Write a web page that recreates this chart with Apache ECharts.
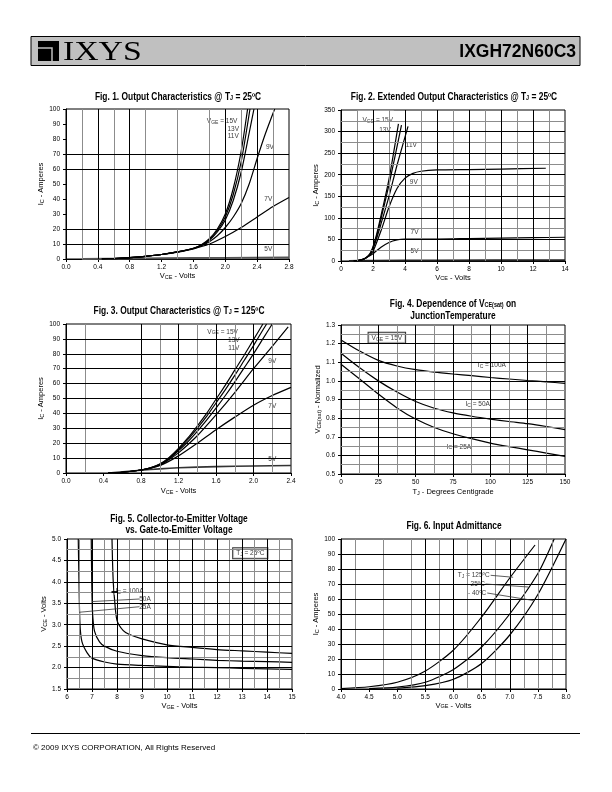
<!DOCTYPE html>
<html><head><meta charset="utf-8">
<script src="https://cdn.jsdelivr.net/npm/echarts/dist/echarts.min.js"></script>
<style>html,body{margin:0;padding:0;background:#fff}#c{width:612px;height:792px}</style>
</head><body><div id="c"></div>
<script>
// ---------------- DATA ----------------
// Fig 1  Output characteristics @25C  [VCE, IC]
const f1_15V = [[0.45,0],[0.6,0.3],[0.8,0.9],[1.0,1.8],[1.2,3.0],[1.4,4.7],[1.6,7.2],[1.7,9.5],[1.8,13.5],[1.9,20],[2.0,30],[2.1,47],[2.2,72],[2.28,100]];
const f1_13V = [[0.45,0],[0.6,0.3],[0.8,0.9],[1.0,1.8],[1.2,3.0],[1.4,4.7],[1.6,7.1],[1.7,9.3],[1.8,13],[1.9,19],[2.0,28],[2.1,43],[2.2,65],[2.31,100]];
const f1_11V = [[0.45,0],[0.6,0.3],[0.8,0.9],[1.0,1.8],[1.2,3.0],[1.4,4.7],[1.6,7.0],[1.7,9.0],[1.8,12.5],[1.9,18],[2.0,26],[2.1,39],[2.2,58],[2.3,84],[2.36,100]];
const f1_9V  = [[0.45,0],[0.6,0.3],[0.8,0.9],[1.0,1.8],[1.2,3.0],[1.4,4.7],[1.6,7.0],[1.7,8.8],[1.8,11.5],[1.9,15.5],[2.0,21],[2.1,28],[2.2,37],[2.3,50],[2.4,67],[2.5,83],[2.62,100]];
const f1_7V  = [[0.45,0],[0.6,0.3],[0.8,0.9],[1.0,1.8],[1.2,3.0],[1.4,4.6],[1.6,6.8],[1.8,10],[2.0,15],[2.2,21],[2.4,28],[2.6,35],[2.8,41]];
const f1_5V  = [[0.2,0],[0.8,0.3],[1.2,0.5],[2.0,0.8],[2.8,1.0]];
const f1Labels  = ['V{s|GE} = 15V','13V','11V','9V','7V','5V'];
const f1LabelAt = [[1.96,92],[2.1,87],[2.1,82],[2.56,75],[2.54,40.5],[2.54,7]];

// Fig 2  Extended output characteristics @25C
const f2_15V = [[0.8,0],[1.2,2],[1.5,6],[1.8,16],[2.0,33],[2.2,58],[2.5,105],[3.0,190],[3.59,318]];
const f2_13V = [[0.8,0],[1.2,2],[1.5,6],[1.8,16],[2.0,31],[2.2,54],[2.5,98],[3.0,177],[3.78,315]];
const f2_11V = [[0.8,0],[1.2,2],[1.5,6],[1.8,15],[2.0,29],[2.2,49],[2.5,86],[3.0,150],[3.5,222],[4.19,312]];
const f2_9V  = [[0.8,0],[1.2,2],[1.5,6],[1.8,14],[2.0,22],[2.5,70],[3.0,125],[3.5,168],[4.0,192],[4.5,203],[5.0,208],[6.0,211],[8.0,212],[10.0,213],[12.8,215]];
const f2_7V  = [[0.8,0],[1.2,2],[1.5,6],[1.8,12],[2.0,17],[2.5,32],[3.0,43],[3.5,49],[4.0,51],[6.0,51],[8.0,52],[10.0,53],[12.0,54],[14.0,55]];
const f2_5V  = [[0.5,0],[2,1],[6,1.5],[14,2]];
const f2Labels  = ['V{s|GE} = 15V','13V','11V','9V','7V','5V'];
const f2LabelAt = [[2.3,327],[2.75,304],[4.4,270],[4.55,184],[4.6,67],[4.6,25]];

// Fig 3  Output characteristics @125C
const f3_15V = [[0.45,0],[0.6,0.5],[0.8,2],[0.9,3.5],[1.0,6],[1.1,10.5],[1.2,16.5],[1.3,23.5],[1.4,31.5],[1.5,40],[1.6,49.5],[1.7,59],[1.8,69],[1.9,79],[2.0,89.5],[2.1,100]];
const f3_13V = [[0.45,0],[0.6,0.5],[0.8,2],[0.9,3.4],[1.0,5.8],[1.1,10],[1.2,15.8],[1.3,22.5],[1.4,30],[1.5,38],[1.6,47],[1.7,56],[1.8,65.5],[1.9,75.5],[2.0,85.5],[2.1,96],[2.14,100]];
const f3_11V = [[0.45,0],[0.6,0.5],[0.8,2],[0.9,3.3],[1.0,5.5],[1.1,9.5],[1.2,15],[1.3,21],[1.4,28],[1.5,35.5],[1.6,43.5],[1.7,52],[1.8,61],[1.9,70.5],[2.0,80],[2.1,90],[2.2,100]];
const f3_9V  = [[0.45,0],[0.6,0.5],[0.8,2],[0.9,3.2],[1.0,5],[1.1,9],[1.2,13.5],[1.4,25],[1.6,39],[1.8,54],[2.0,70],[2.2,85],[2.37,98]];
const f3_7V  = [[0.45,0],[0.6,0.5],[0.8,2],[1.0,5],[1.2,11.5],[1.4,20],[1.6,29],[1.8,37.5],[2.0,45.5],[2.2,52],[2.4,57.5]];
const f3_5V  = [[0.45,0],[0.8,1.8],[1.0,2.8],[1.2,3.5],[1.6,4.3],[2.0,4.7],[2.4,5.0]];
const f3Labels  = ['V{s|GE} = 15V','13V','11V','9V','7V','5V'];
const f3LabelAt = [[1.67,95],[1.79,89.4],[1.79,84],[2.2,75.5],[2.2,45],[2.2,9.5]];

// Fig 4  VCE(sat) normalized vs TJ
const f4_100A = [[0,1.22],[12.5,1.16],[25,1.11],[37.5,1.08],[50,1.06],[62.5,1.047],[75,1.037],[87.5,1.028],[100,1.018],[112.5,1.01],[125,1.002],[137.5,0.995],[150,0.987]];
const f4_50A  = [[0,1.148],[12.5,1.07],[25,1.0],[37.5,0.94],[50,0.889],[62.5,0.853],[75,0.828],[87.5,0.81],[100,0.795],[112.5,0.782],[125,0.77],[137.5,0.755],[150,0.738]];
const f4_25A  = [[0,1.089],[12.5,1.01],[25,0.929],[37.5,0.855],[50,0.795],[62.5,0.75],[75,0.716],[87.5,0.69],[100,0.666],[112.5,0.647],[125,0.63],[137.5,0.612],[150,0.595]];
const f4Labels  = ['V{s|GE} = 15V','I{s|C} = 100A','I{s|C} = 50A','I{s|C} = 25A'];
const f4LabelAt = [[30.7,1.232],[101,1.085],[91.5,0.877],[79,0.648]];

// Fig 5  VCE vs VGE
const f5_100A = [[7.8,5.0],[7.82,4.5],[7.85,4.0],[7.9,3.6],[8.0,3.1],[8.25,2.86],[8.5,2.77],[9,2.67],[10,2.53],[11,2.47],[12,2.42],[13,2.39],[14,2.36],[15,2.33]];
const f5_50A  = [[6.97,5.0],[6.99,4.0],[7.02,3.3],[7.1,2.85],[7.3,2.6],[7.5,2.5],[8,2.38],[9,2.28],[10,2.23],[11,2.2],[12,2.17],[13,2.15],[14,2.14],[15,2.12]];
const f5_25A  = [[6.45,5.0],[6.48,4.0],[6.52,3.0],[6.6,2.6],[6.8,2.35],[7,2.22],[7.5,2.13],[8,2.08],[9,2.05],[10,2.03],[11,2.01],[12,2.0],[13,1.98],[14,1.97],[15,1.96]];
const f5Labels  = ['T{s|J} = 25ºC','I{s|C} = 100A','50A','25A'];
const f5LabelAt = [[13.33,4.67],[8.5,3.79],[9.12,3.6],[9.12,3.41]];
const f5Leaders = [[[7.78,3.78],[8.03,3.78]],[[7.0,3.54],[8.9,3.6]],[[6.48,3.29],[8.9,3.42]]];

// Fig 6  Input admittance  [VGE, IC]
const f6_125C = [[4.0,0.3],[4.5,1.5],[5.0,4.5],[5.5,12],[6.0,26],[6.5,48],[7.0,74],[7.45,96]];
const f6_25C  = [[4.5,0.3],[5.0,1.2],[5.5,4.5],[6.0,13],[6.5,28],[7.0,50],[7.5,77],[7.79,100]];
const f6_m40C = [[5.0,0.5],[5.5,2.2],[6.0,6.5],[6.5,17],[7.0,36],[7.5,63],[8.0,100]];
const f6Labels  = ['T{s|J} = 125ºC','25ºC','- 40ºC'];
const f6LabelAt = [[6.36,76],[6.43,70],[6.42,64]];
const f6Leaders = [[[6.66,75.8],[7.06,74.5]],[[6.57,70],[7.33,68]],[[6.6,64],[7.42,59]]];

// grid-line positions
const f1Grid = {bx:[0.4,0.8,2.0,2.4], gx:[0.2,0.6,1.0,1.4,1.8,2.2,2.6], by:[10,20,60,70], gy:[]};
const f2Grid = {bx:[2,4,6,8,10,12], gx:[1,3,5,7,9,11,13], by:[50,100,150,200,250,300], gy:[25,75,125,175,225,275,325]};
const f3Grid = {bx:[0.8,1.2,1.6,2.0], gx:[0.2,1.0,1.4,1.8,2.2], by:[10,20,30,40,50,60,70,80,90], gy:[]};
const f4Grid = {bx:[25,50,75,100,125], gx:[12.5,37.5,62.5,87.5,112.5,137.5], by:[0.6,0.7,0.8,0.9,1.0,1.1,1.2], gy:[0.55,0.65,0.75,0.85,0.95,1.05,1.15,1.25]};
const f5Grid = {bx:[7,8,9,10,11,12,13,14], gx:[6.5,7.5,8.5,9.5,10.5,11.5,12.5,13.5,14.5], by:[2.0,2.5,3.0,3.5,4.0,4.5], gy:[1.75,2.25,2.75,3.25,3.75,4.25,4.75]};
const f6Grid = {bx:[5.5,6.0,6.5,7.0], gx:[4.25,4.75,5.25,5.75,6.25,6.75,7.25,7.5,7.75], by:[10,20,30,40,50,60,70,80,90], gy:[]};

// axis ranges [min, max, interval]
const f1XR=[0,2.8,0.4], f1YR=[0,100,10];
const f2XR=[0,14,2],    f2YR=[0,350,50];
const f3XR=[0,2.4,0.4], f3YR=[0,100,10];
const f4XR=[0,150,25],  f4YR=[0.5,1.3,0.1];
const f5XR=[6,15,1],    f5YR=[1.5,5.0,0.5];
const f6XR=[4,8,0.5],   f6YR=[0,100,10];

// ---------------- BUILD ----------------
const FONT = "'Liberation Sans', Arial, sans-serif";
const subRich = (fs) => ({ s: { fontSize: fs, fontFamily: FONT, color:'#000', verticalAlign: 'bottom', padding:[2,0,0,0] } });

const grids = [
  {left:66,  top:109, width:223, height:150},
  {left:341, top:110, width:224, height:151},
  {left:66,  top:324, width:225, height:149},
  {left:341, top:325, width:224, height:149},
  {left:67,  top:539, width:225, height:150},
  {left:341, top:539, width:225, height:150}
].map(g => Object.assign(g, {show:true, borderColor:'#000', borderWidth:1, backgroundColor:'transparent', containLabel:false, outerBoundsMode:'none'}));

const xAxes = [], yAxes = [], series = [];

function axis(range, dec, name, gap, isY) {
  return {
    type:'value', min:range[0], max:range[1], interval:range[2],
    name: name, nameLocation:'middle', nameGap: gap, nameRotate: isY ? 90 : 0,
    nameTextStyle:{fontSize:7.5, color:'#000', fontFamily:FONT, rich: subRich(5.5)},
    axisLine:{show:true, onZero:false, lineStyle:{color:'#000', width:1}},
    axisTick:{show:true, inside:false, length:3, lineStyle:{color:'#000', width:1}},
    axisLabel:{show:true, fontSize:6.5, color:'#000', fontFamily:FONT, margin: isY ? 6 : 5,
      formatter: v => dec ? Number(v).toFixed(dec) : String(Math.round(v))},
    splitLine:{show:false}, minorSplitLine:{show:false}, minorTick:{show:false}
  };
}

function addChart(i, c) {
  xAxes.push(Object.assign(axis(c.xr, c.xdec, c.xname, c.xgap, false), {gridIndex:i}));
  yAxes.push(Object.assign(axis(c.yr, c.ydec, c.yname, c.ygap, true), {gridIndex:i}));
  const ml = [];
  c.grid.gx.forEach(v => ml.push({xAxis:v, lineStyle:{color:'#8c8c8c', width:1, type:'solid'}}));
  c.grid.gy.forEach(v => ml.push({yAxis:v, lineStyle:{color:'#8c8c8c', width:1, type:'solid'}}));
  c.grid.bx.forEach(v => ml.push({xAxis:v, lineStyle:{color:'#000', width:1, type:'solid'}}));
  c.grid.by.forEach(v => ml.push({yAxis:v, lineStyle:{color:'#000', width:1, type:'solid'}}));
  series.push({type:'line', xAxisIndex:i, yAxisIndex:i, data:[], z:1, silent:true,
    markLine:{symbol:['none','none'], silent:true, animation:false, label:{show:false},
      lineStyle:{type:'solid'}, emphasis:{disabled:true}, data:ml}});
  if (c.mask) {
    series.push({type:'line', xAxisIndex:i, yAxisIndex:i, data:[], z:2, silent:true,
      markArea:{silent:true, animation:false, itemStyle:{color:'#fff', borderWidth:0}, label:{show:false},
        emphasis:{disabled:true}, data: c.mask.map(m => [{coord:m[0]},{coord:m[1]}])}});
  }
  c.curves.forEach(cv => series.push({type:'line', xAxisIndex:i, yAxisIndex:i, data:cv[0], z:3,
    showSymbol:false, symbol:'none', smooth:0.25, silent:true,
    lineStyle:{color:cv[1] || '#000', width:cv[2] || 1.2}}));
  const lab = c.labels.map((t, k) => {
    const d = {name:t, value:c.labelAt[k]};
    if (c.boxed && c.boxed.includes(k)) d.label = {borderColor:'#000', borderWidth:1, padding:[2,3,1,3]};
    return d;
  });
  const s = {type:'scatter', xAxisIndex:i, yAxisIndex:i, z:4, silent:true, symbolSize:0.01,
    itemStyle:{color:'rgba(0,0,0,0)'}, data:lab,
    label:{show:true, position:'inside', formatter:'{b}', color:'#000', fontSize:6.5, fontFamily:FONT,
      backgroundColor:'#fff', padding:[1,1,0,1], rich: subRich(5)}};
  if (c.leaders) {
    s.markLine = {symbol:['none','none'], silent:true, animation:false, label:{show:false},
      emphasis:{disabled:true}, lineStyle:{type:'solid', color:'#333', width:0.8},
      data: c.leaders.map((p, k) => [{coord:p[0], lineStyle: (c.thickLeader === k ? {width:1.8, color:'#000'} : undefined)}, {coord:p[1]}])};
  }
  series.push(s);
}

const IC = 'I{s|C} - Amperes';
addChart(0, {xr:f1XR, yr:f1YR, xdec:1, ydec:0, xname:'V{s|CE} - Volts', yname:IC, xgap:13, ygap:17, grid:f1Grid,
  mask:[[[1.74,76],[2.08,99.3]]],
  curves:[[f1_5V,'#555',1.8],[f1_7V],[f1_9V],[f1_11V],[f1_13V],[f1_15V]], labels:f1Labels, labelAt:f1LabelAt});
addChart(1, {xr:f2XR, yr:f2YR, xdec:0, ydec:0, xname:'V{s|CE} - Volts', yname:IC, xgap:12, ygap:17, grid:f2Grid,
  mask:[[[1.05,303],[3.3,348]]],
  curves:[[f2_5V,'#222',1.8],[f2_7V],[f2_9V],[f2_11V],[f2_13V],[f2_15V]], labels:f2Labels, labelAt:f2LabelAt});
addChart(2, {xr:f3XR, yr:f3YR, xdec:1, ydec:0, xname:'V{s|CE} - Volts', yname:IC, xgap:14, ygap:17, grid:f3Grid,
  mask:[[[1.5,80.5],[1.86,99.3]]],
  curves:[[f3_5V,'#333',1.6],[f3_7V],[f3_9V],[f3_11V],[f3_13V],[f3_15V]], labels:f3Labels, labelAt:f3LabelAt});
addChart(3, {xr:f4XR, yr:f4YR, xdec:0, ydec:1, xname:'T{s|J} - Degrees Centigrade', yname:'V{s|CE(sat)} - Normalized', xgap:14, ygap:17, grid:f4Grid,
  curves:[[f4_100A],[f4_50A],[f4_25A]], labels:f4Labels, labelAt:f4LabelAt, boxed:[0]});
addChart(4, {xr:f5XR, yr:f5YR, xdec:0, ydec:1, xname:'V{s|GE} - Volts', yname:'V{s|CE} - Volts', xgap:13, ygap:17, grid:f5Grid,
  curves:[[f5_100A],[f5_50A],[f5_25A]], labels:f5Labels, labelAt:f5LabelAt, boxed:[0], leaders:f5Leaders, thickLeader:0});
addChart(5, {xr:f6XR, yr:f6YR, xdec:1, ydec:0, xname:'V{s|GE} - Volts', yname:IC, xgap:12, ygap:18, grid:f6Grid,
  mask:[[[6.0,61],[6.66,79.5]]],
  curves:[[f6_125C],[f6_25C],[f6_m40C]], labels:f6Labels, labelAt:f6LabelAt, leaders:f6Leaders});

function ttl(text, x, y) {
  return {type:'text', x:x, y:y, scaleX:0.84, silent:true, z:10, style:{text:text, fill:'#000', fontSize:10, fontWeight:'bold', fontFamily:FONT,
    align:'center', verticalAlign:'middle', textAlign:'center', textVerticalAlign:'middle',
    rich:{s:{fontSize:6.5, fontWeight:'bold', fontFamily:FONT, fill:'#000', verticalAlign:'bottom', padding:[3,0,0,0]}}}};
}
const graphic = [
  {type:'rect', shape:{x:31, y:36.5, width:549, height:29}, style:{fill:'#c0c0c0', stroke:'#000', lineWidth:1}, silent:true},
  {type:'rect', shape:{x:38, y:41, width:21, height:20}, style:{fill:'#000'}, silent:true},
  {type:'polyline', shape:{points:[[38,48],[52,48],[52,61]]}, style:{stroke:'#c0c0c0', lineWidth:1.5, fill:null}, silent:true},
  {type:'text', x:63, y:52.5, scaleX:1.25, style:{text:'IXYS', fontFamily:"'Liberation Serif', 'DejaVu Serif', serif", fontSize:27, fill:'#000', verticalAlign:'middle', textVerticalAlign:'middle'}, silent:true},
  {type:'text', x:576, y:52, style:{text:'IXGH72N60C3', fontFamily:FONT, fontWeight:'bold', fontSize:17.5, fill:'#000', align:'right', textAlign:'right', verticalAlign:'middle', textVerticalAlign:'middle'}, silent:true},
  {type:'line', shape:{x1:31, y1:733.5, x2:580, y2:733.5}, style:{stroke:'#000', lineWidth:1}, silent:true},
  {type:'text', x:33, y:748, style:{text:'© 2009 IXYS CORPORATION, All Rights Reserved', fontFamily:FONT, fontSize:8, fill:'#000', verticalAlign:'middle', textVerticalAlign:'middle'}, silent:true},
  ttl('Fig. 1. Output Characteristics @ T{s|J} = 25ºC', 178, 97),
  ttl('Fig. 2. Extended Output Characteristics @ T{s|J} = 25ºC', 454, 97),
  ttl('Fig. 3. Output Characteristics @ T{s|J} = 125ºC', 179, 311),
  ttl('Fig. 4. Dependence of V{s|CE(sat)} on', 453, 304),
  ttl('JunctionTemperature', 453, 316),
  ttl('Fig. 5. Collector-to-Emitter Voltage', 179, 519),
  ttl('vs. Gate-to-Emitter Voltage', 179, 530),
  ttl('Fig. 6. Input Admittance', 454, 526)
];

const chart = echarts.init(document.getElementById('c'), null, {renderer:'canvas', width:612, height:792});
chart.setOption({animation:false, backgroundColor:'#fff', grid:grids, xAxis:xAxes, yAxis:yAxes, series:series, graphic:graphic});
</script></body></html>
